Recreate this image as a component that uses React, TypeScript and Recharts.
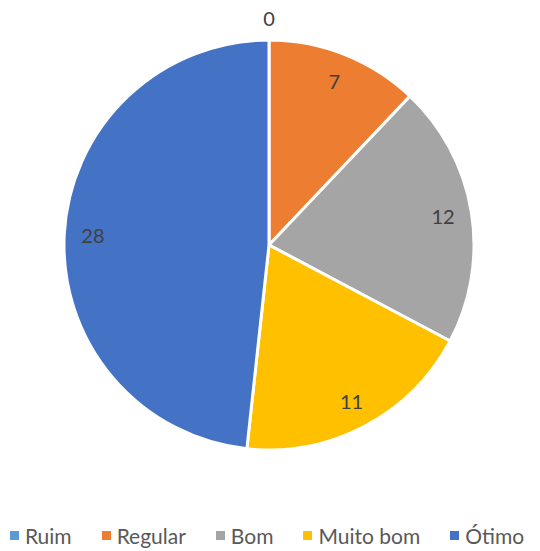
import { PieChart, Pie, Cell, Legend } from 'recharts';

const categories = ['Ruim', 'Regular', 'Bom', 'Muito bom', 'Ótimo'];
const values = [0, 7, 12, 11, 28];
const colors = ['#5b9bd5', '#ed7d31', '#a5a5a5', '#ffc000', '#4472c4'];

const data = categories.map((name, i) => ({ name, value: values[i] }));

const RAD = Math.PI / 180;

function renderLabel(props: any) {
  const { cx, cy, midAngle, outerRadius, value } = props;
  const r = value === 0 ? outerRadius + 22 : outerRadius * 0.86;
  const x = cx + r * Math.cos(-midAngle * RAD);
  const y = cy + r * Math.sin(-midAngle * RAD);
  return (
    <text x={x} y={y} fill="#404040" fontSize={20} textAnchor="middle" dominantBaseline="central">
      {value}
    </text>
  );
}

function LegendContent() {
  return (
    <div style={{ display: 'flex', justifyContent: 'center', alignItems: 'center', gap: 30, fontSize: 21, color: '#595959', marginLeft: -6 }}>
      {categories.map((name, i) => (
        <div key={name} style={{ display: 'flex', alignItems: 'center', gap: 6 }}>
          <span style={{ width: 9, height: 9, background: colors[i], display: 'inline-block' }} />
          <span>{name}</span>
        </div>
      ))}
    </div>
  );
}

export default function App() {
  return (
    <div style={{ position: 'absolute', left: 0, top: 0, background: '#fff', fontFamily: 'Lato, sans-serif' }}>
      <PieChart width={540} height={551}>
        <Pie
          data={data}
          dataKey="value"
          cx={264}
          cy={240}
          outerRadius={205}
          startAngle={90}
          endAngle={-270}
          stroke="#fff"
          strokeWidth={3}
          label={renderLabel}
          labelLine={false}
          isAnimationActive={false}
        >
          {data.map((entry, index) => (
            <Cell key={entry.name} fill={colors[index]} />
          ))}
        </Pie>
        <Legend verticalAlign="bottom" content={LegendContent} wrapperStyle={{ bottom: 3 }} />
      </PieChart>
    </div>
  );
}
